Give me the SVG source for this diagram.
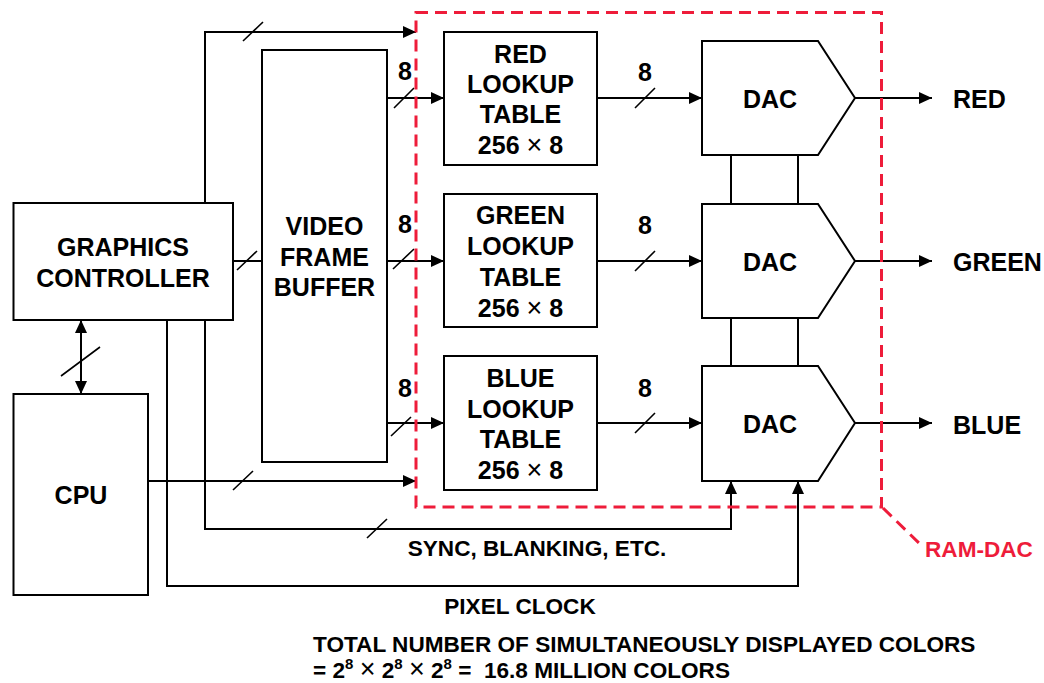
<svg xmlns="http://www.w3.org/2000/svg" width="1044" height="683" viewBox="0 0 1044 683">
<defs>
<marker id="ah" viewBox="0 0 13 12" refX="13" refY="6" markerWidth="13" markerHeight="12" markerUnits="userSpaceOnUse" orient="auto-start-reverse">
<path d="M0,0 L13,6 L0,12 Z" fill="#000"/>
</marker>
<style>
.box{fill:#fff;stroke:#000;stroke-width:2}
.ln{fill:none;stroke:#000;stroke-width:2}
.sl{fill:none;stroke:#000;stroke-width:1.6}
.t{font-family:"Liberation Sans",Arial,sans-serif;font-weight:bold;font-size:25px;fill:#000;text-anchor:middle}
.tl{font-family:"Liberation Sans",Arial,sans-serif;font-weight:bold;font-size:22.6px;fill:#000}
.x{font-weight:normal;font-size:27px}
.red{fill:none;stroke:#EE1C3A;stroke-width:3;stroke-dasharray:12 7}
</style>
</defs>
<rect width="1044" height="683" fill="#fff"/>

<g id="connectors">
<path class="ln" d="M205,203 V32 H416" marker-end="url(#ah)"/>
<path class="ln" d="M233,261 H262"/>
<path class="ln" d="M387,98 H444" marker-end="url(#ah)"/>
<path class="ln" d="M387,261 H444" marker-end="url(#ah)"/>
<path class="ln" d="M387,423 H444" marker-end="url(#ah)"/>
<path class="ln" d="M597,98 H702" marker-end="url(#ah)"/>
<path class="ln" d="M597,261 H702" marker-end="url(#ah)"/>
<path class="ln" d="M597,423 H702" marker-end="url(#ah)"/>
<path class="ln" d="M855,98 H932" marker-end="url(#ah)"/>
<path class="ln" d="M855,261 H932" marker-end="url(#ah)"/>
<path class="ln" d="M855,423 H932" marker-end="url(#ah)"/>
<path class="ln" d="M731,155 V204 M798,155 V204 M731,318 V366 M798,318 V366"/>
<path class="ln" d="M81,320 V394" marker-start="url(#ah)" marker-end="url(#ah)"/>
<path class="ln" d="M148,481 H416" marker-end="url(#ah)"/>
<path class="ln" d="M205,320 V529 H731 V481" marker-end="url(#ah)"/>
<path class="ln" d="M167,320 V586 H798 V481" marker-end="url(#ah)"/>
<path class="sl" d="M243,41 L263,22 M237,270 L257,251 M394,108 L414,88 M393,269 L414,249 M391,436 L411,417 M635,108 L655,88 M635,271 L655,251 M635,433 L655,413 M61,376 L100,347 M233,490 L253,471 M367,538 L387,519"/>
</g>

<g id="ram-dac">
<rect class="red" x="416" y="12.5" width="465.5" height="494.5"/>
<path class="red" d="M883,508 L922,546"/>
<text class="tl" x="925" y="557" style="fill:#EE1C3A">RAM-DAC</text>
</g>

<g id="graphics-controller">
<rect class="box" x="13.5" y="203" width="219.5" height="117"/>
<text class="t" x="123" y="256">GRAPHICS</text>
<text class="t" x="123" y="287">CONTROLLER</text>
</g>

<g id="cpu">
<rect class="box" x="13.5" y="394" width="134.5" height="201"/>
<text class="t" x="81" y="504">CPU</text>
</g>

<g id="video-frame-buffer">
<rect class="box" x="262" y="50" width="125" height="412"/>
<text class="t" x="324.5" y="235">VIDEO</text>
<text class="t" x="324.5" y="266">FRAME</text>
<text class="t" x="324.5" y="296">BUFFER</text>
</g>

<g id="red-lut">
<rect class="box" x="444" y="32" width="153" height="133"/>
<text class="t" x="520.5" y="63">RED</text>
<text class="t" x="520.5" y="93">LOOKUP</text>
<text class="t" x="520.5" y="123">TABLE</text>
<text class="t" x="520.5" y="154">256 <tspan class="x">×</tspan> 8</text>
</g>

<g id="green-lut">
<rect class="box" x="444" y="194" width="153" height="133"/>
<text class="t" x="520.5" y="224">GREEN</text>
<text class="t" x="520.5" y="255">LOOKUP</text>
<text class="t" x="520.5" y="286">TABLE</text>
<text class="t" x="520.5" y="317">256 <tspan class="x">×</tspan> 8</text>
</g>

<g id="blue-lut">
<rect class="box" x="444" y="356" width="153" height="134"/>
<text class="t" x="520.5" y="387">BLUE</text>
<text class="t" x="520.5" y="418">LOOKUP</text>
<text class="t" x="520.5" y="448">TABLE</text>
<text class="t" x="520.5" y="479">256 <tspan class="x">×</tspan> 8</text>
</g>

<g id="red-dac">
<path class="box" d="M702,41 H818 L855,98 L818,155 H702 Z"/>
<text class="t" x="770" y="108">DAC</text>
</g>
<g id="green-dac">
<path class="box" d="M702,204 H818 L855,261 L818,318 H702 Z"/>
<text class="t" x="770" y="271">DAC</text>
</g>
<g id="blue-dac">
<path class="box" d="M702,366 H818 L855,423 L818,481 H702 Z"/>
<text class="t" x="770" y="433">DAC</text>
</g>

<g id="labels">
<text class="t" x="405" y="80">8</text>
<text class="t" x="405" y="233">8</text>
<text class="t" x="405" y="397">8</text>
<text class="t" x="645" y="81">8</text>
<text class="t" x="645" y="234">8</text>
<text class="t" x="645" y="397">8</text>
<text class="t" x="953" y="108" style="text-anchor:start">RED</text>
<text class="t" x="953" y="271" style="text-anchor:start">GREEN</text>
<text class="t" x="953" y="434" style="text-anchor:start">BLUE</text>
<text class="tl" x="537" y="556" text-anchor="middle">SYNC, BLANKING, ETC.</text>
<text class="tl" x="520" y="614" text-anchor="middle">PIXEL CLOCK</text>
<text class="tl" x="313" y="652">TOTAL NUMBER OF SIMULTANEOUSLY DISPLAYED COLORS</text>
<text class="tl" x="313" y="678" xml:space="preserve">= 2<tspan font-size="15" dy="-9">8</tspan><tspan dy="9"> <tspan class="x" font-size="24">×</tspan> 2</tspan><tspan font-size="15" dy="-9">8</tspan><tspan dy="9"> <tspan class="x" font-size="24">×</tspan> 2</tspan><tspan font-size="15" dy="-9">8</tspan><tspan dy="9"> =  16.8 MILLION COLORS</tspan></text>
</g>
</svg>
